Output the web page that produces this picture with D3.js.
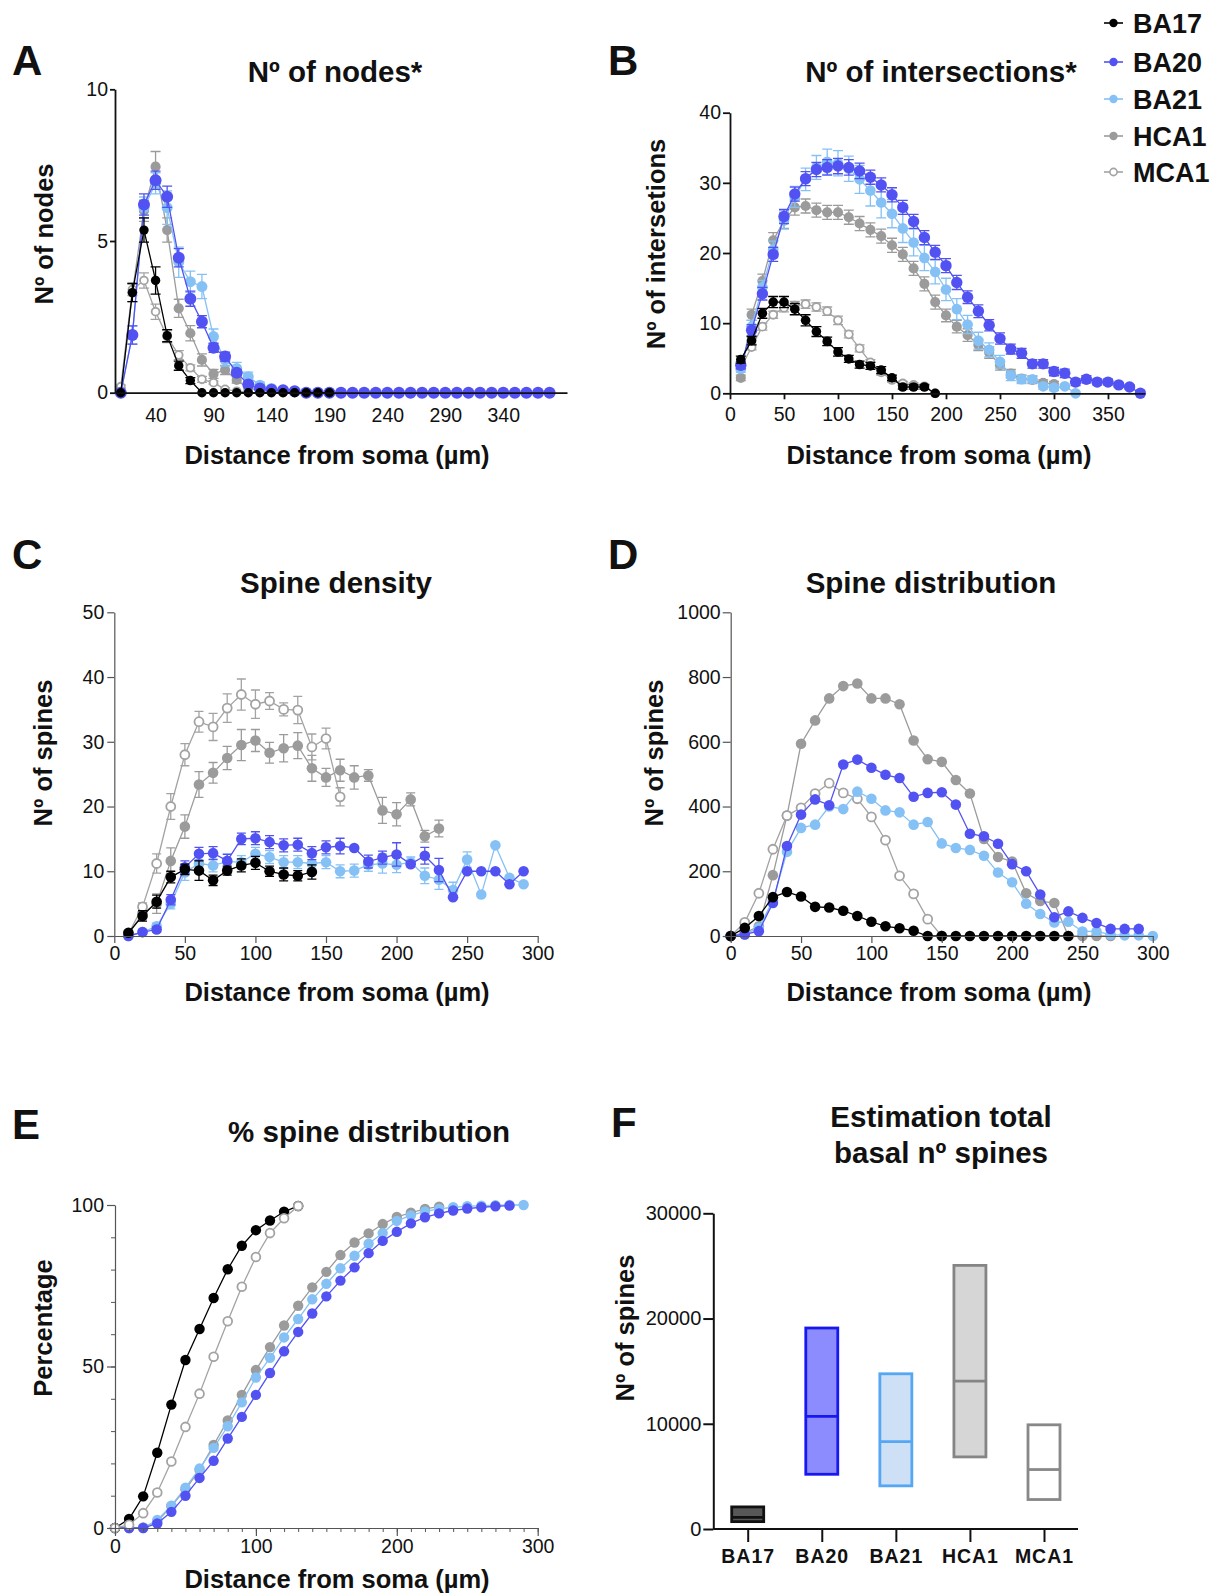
<!DOCTYPE html>
<html>
<head>
<meta charset="utf-8">
<title>Basal dendrite morphology</title>
<style>
  body { margin: 0; padding: 0; background: #fff; font-family: "Liberation Sans", Arial, Helvetica, sans-serif; }
  svg text { fill: #111; font-family: "Liberation Sans", Arial, Helvetica, sans-serif; }
  .tick text { font-size: 19.5px; }
  .title { font-size: 29.5px; font-weight: bold; text-anchor: middle; }
  .letter { font-size: 42px; font-weight: bold; }
  .axlabel { font-size: 25.5px; font-weight: bold; text-anchor: middle; }
  .legend text { font-size: 27px; font-weight: bold; }
  .catlab .tick text { font-size: 19.5px; font-weight: bold; letter-spacing: 1px; }
  .ylabF .tick text { font-size: 20px; }
</style>
</head>
<body>
<div id="fig"></div>
<script src="https://d3js.org/d3.v7.min.js"></script>
<script>
// ---- data ----
var groups = ["BA17", "BA20", "BA21", "HCA1", "MCA1"];

// A: number of nodes
var nodesDist = [10,20,30,40,50,60,70,80,90,100,110,120,130,140,150,160,170,180,190,200,210,220,230,240,250,260,270,280,290,300,310,320,330,340,350,360,370,380];
var nodesBA17 = [0,3.3,5.36,3.7,1.88,0.89,0.4,0,0,0,0,0,0,0,0,0,0,0,0];
var nodesBA20 = [0,1.9,6.2,7.0,6.46,4.45,3.1,2.34,1.48,1.19,0.66,0.27,0.14,0.1,0.08,0.05,0,0,0,0,0,0,0,0,0,0,0,0,0,0,0,0,0,0,0,0,0,0];
var nodesBA21 = [0,1.9,6.1,6.9,6.1,4.3,3.66,3.5,1.85,1.08,0.8,0.53,0.25,0.14,0.08,0.04,0,0,0];
var nodesHCA1 = [0,3.3,6.0,7.45,5.36,2.78,1.96,1.08,0.62,0.75,0.42,0.14,0.08,0.04,0.02];
var nodesMCA1 = [0.2,3.4,3.7,2.67,1.85,1.24,0.82,0.44,0.33,0.11,0.05,0.02];
var nodesErrBA17 = [0,0.3,0.4,0.45,0.2,0.15,0.1];
var nodesErrBA20 = [0,0.3,0.35,0.3,0.35,0.3,0.25,0.2,0.15,0.15,0.1,0.08,0.05];
var nodesErrBA21 = [0,0.3,0.35,0.35,0.55,0.5,0.35,0.4,0.25,0.2,0.2,0.15,0.1];
var nodesErrHCA1 = [0,0.3,0.35,0.5,0.4,0.3,0.25,0.2,0.15,0.15,0.1];
var nodesErrMCA1 = [0.05,0.2,0.25,0.25,0.2,0.15,0.1,0.1,0.05,0.05];

// B: number of intersections
var interDist = nodesDist;
var interBA17 = [4.8,7.5,11.4,13.0,13.0,12.0,10.4,8.8,7.4,5.9,4.9,4.1,3.9,3.3,2.2,0.9,0.9,0.9,0];
var interBA20 = [4.0,9.0,14.2,19.8,25.2,28.4,30.6,31.9,32.2,32.4,32.2,31.7,30.8,29.7,28.3,26.5,24.5,22.2,20.1,18.2,15.8,13.7,11.7,9.7,7.8,6.3,5.7,4.2,4.2,3.1,2.85,1.6,2.0,1.6,1.6,1.2,0.9,0];
var interBA21 = [3.5,9.5,15.1,20.5,24.7,28.0,30.5,32.2,33.0,32.8,32.0,30.5,28.9,27.2,25.6,23.5,21.5,19.3,17.3,14.8,12.0,9.8,7.5,6.2,4.5,2.5,2.0,2.0,1.0,0.8,1.0,0];
var interHCA1 = [2.2,11.2,16.0,21.8,24.6,26.5,26.7,26.1,25.8,25.8,25.1,24.2,23.3,22.4,21.1,19.8,17.8,15.6,13.0,11.1,9.5,8.3,6.9,5.8,4.0,2.8,2.1,1.9,1.5,1.3];
var interMCA1 = [3.6,6.6,9.5,11.2,12.2,12.5,12.7,12.3,11.7,10.4,8.4,6.4,4.4,3.0,1.9,1.4,1.2,1.0,0];
var interErrBA17 = [0.5,0.6,0.7,0.8,0.8,0.8,0.8,0.7,0.6,0.6,0.5,0.5,0.5,0.5,0.4,0.3,0.3,0.3,0];
var interErrBA20 = [0.5,0.8,0.9,1.0,1.0,1.0,1.0,1.0,1.1,1.1,1.1,1.1,1.0,1.0,1.0,1.0,1.0,1.0,1.0,1.0,1.0,0.9,0.9,0.8,0.8,0.7,0.7,0.6,0.6,0.6,0.6,0.5,0.5,0.4,0.4,0.3,0.3,0];
var interErrBA21 = [0.5,0.9,1.0,1.2,1.3,1.5,1.6,1.7,1.8,1.8,1.8,2.0,2.2,2.2,2.0,2.0,1.9,1.8,1.7,1.6,1.5,1.3,1.2,1.0,0.9,0.7,0.6,0.5,0.4,0.4,0.3,0];
var interErrHCA1 = [0.4,0.8,1.0,1.1,1.1,1.1,1.0,1.0,1.0,1.0,1.0,1.0,1.0,1.0,1.0,1.0,1.0,1.0,1.0,0.9,0.9,0.9,0.8,0.8,0.7,0.6,0.5,0.5,0.4,0.4];
var interErrMCA1 = [0.3,0.4,0.5,0.5,0.6,0.6,0.6,0.6,0.6,0.6,0.5,0.5,0.4,0.4,0.3,0.3,0.3,0.3,0];

// C: spine density
var densDist = [10,20,30,40,50,60,70,80,90,100,110,120,130,140,150,160,170,180,190,200,210,220,230,240,250,260,270,280,290];
var densBA17 = [0.5,3.1,5.3,9.1,10.3,10.1,8.6,10.1,10.9,11.3,10.0,9.5,9.3,9.9];
var densBA20 = [0,0.6,1.0,5.6,10.6,12.7,12.8,11.6,15.0,15.1,14.5,14.0,14.1,12.8,13.7,13.9,13.6,11.5,12.1,12.6,11.1,12.4,10.2,6.0,10.0,10.0,10.0,8.0,10.0];
var densBA21 = [0,0.6,1.5,5.0,9.8,11.2,10.9,11.5,11.4,12.7,12.2,11.4,11.4,11.2,11.4,10.0,10.1,11.0,11.2,11.0,11.4,9.3,8.7,7.1,11.8,6.4,14.0,9.0,8.0];
var densHCA1 = [0.2,3.5,5.0,11.6,16.9,23.4,25.2,27.5,29.5,30.2,28.3,29.0,29.4,25.9,24.5,25.6,24.5,24.8,19.4,18.8,21.1,15.4,16.6];
var densMCA1 = [0.3,4.5,11.2,20.0,28.0,33.1,32.3,35.2,37.3,35.8,36.3,35.0,34.9,29.2,30.5,21.5];
var densErrBA17 = [0.3,0.8,1.0,0.9,0.8,1.5,0.8,0.7,1.0,1.0,0.8,1.0,0.8,1.1];
var densErrBA20 = [0,0.3,0.4,0.8,1.0,1.0,1.0,1.0,0.9,1.0,1.0,1.0,1.0,1.0,1.0,1.2,0,1.0,1.0,1.8,0,1.3,1.8,0,0,0,0,0,0];
var densErrBA21 = [0,0.3,0.5,0.8,1.2,1.2,1.0,1.2,1.0,1.0,1.0,1.0,1.0,1.0,1.0,1.0,1.0,1.0,1.5,1.2,0.8,1.2,1.5,1.2,1.2,0,0,0,0];
var densErrHCA1 = [0.2,0.8,1.5,2.0,1.8,2.0,1.6,1.8,2.4,1.7,1.6,2.1,2.0,2.0,1.4,1.7,1.8,0.9,2.0,1.8,1.0,0.9,1.3];
var densErrMCA1 = [0.2,0.6,1.5,2.0,1.7,1.6,2.1,2.2,2.4,2.2,1.3,1.0,2.1,2.0,1.6,1.4];

// D: spine distribution
var distDist = [0,10,20,30,40,50,60,70,80,90,100,110,120,130,140,150,160,170,180,190,200,210,220,230,240,250,260,270,280,290,300];
var distBA17 = [0,25,62,120,136,122,90,88,78,62,44,30,24,16,0,0,0,0,0,0,0,0,0,0,0];
var distBA20 = [0,5,15,102,278,375,422,404,530,545,520,498,488,430,442,444,406,316,308,285,222,200,128,58,76,56,40,22,22,22];
var distBA21 = [0,5,25,110,260,334,344,400,392,446,424,388,382,344,352,286,272,266,248,196,166,100,68,42,44,14,14,4,2,2,0];
var distHCA1 = [0,10,30,188,372,594,666,734,772,780,734,734,716,604,546,538,482,440,300,244,230,132,108,102,0,0,0,0];
var distMCA1 = [0,42,132,268,372,396,440,472,442,424,368,296,186,130,52,0];

// E: % spine distribution (cumulative)
var pctDist = distDist;
var pctBA17 = [0,2.8,9.8,23.3,38.2,52.0,61.6,71.2,80.1,87.4,92.2,95.2,97.9,99.7];
var pctBA20 = [0,0,0,1.4,5.0,10.0,15.5,20.8,27.7,34.4,41.2,48.0,54.7,60.7,66.4,71.7,76.6,80.7,85.1,88.9,91.7,94.3,96.2,97.4,98.3,98.9,99.3,99.6,99.8];
var pctBA21 = [0,0,0,2.5,6.9,12.5,18.4,24.8,31.5,38.9,46.6,52.7,59.0,64.7,70.8,75.6,80.4,84.3,88.0,91.3,95.1,96.8,98.0,98.8,99.3,99.6,99.8,99.9,100,100];
var pctHCA1 = [0,0,0.2,2.0,6.8,12.0,18.0,25.7,33.3,41.2,48.9,56.0,62.7,68.8,74.5,79.3,84.5,88.4,91.2,94.1,96.3,97.6,98.8,99.5];
var pctMCA1 = [0,1.0,4.6,11.0,20.6,31.3,41.6,53.0,64.0,74.7,83.9,91.3,95.9,99.7];

// F: estimated total basal spines (min, max, mean)
var totalMin = [700, 5200, 4100, 6850, 2800];
var totalMax = [2100, 19100, 14750, 25050, 9900];
var totalMean = [1100, 10700, 8300, 14050, 5650];

// ---- styles ----
var styles = {
    BA17: { line: "#000", fill: "#000", big: 0 },
    BA20: { line: "#5252f2", fill: "#5252f2", big: 1 },
    BA21: { line: "#85c1f5", fill: "#85c1f5", big: 0.6 },
    HCA1: { line: "#9b9b9b", fill: "#9b9b9b", big: 0.3 },
    MCA1: { line: "#a3a3a3", fill: "#fff", big: 0 }
};
var boxStyle = {
    BA17: { fill: "#575757", stroke: "#111" },
    BA20: { fill: "#8c8cff", stroke: "#1717f0" },
    BA21: { fill: "#cde0f6", stroke: "#55a6f3" },
    HCA1: { fill: "#d6d6d6", stroke: "#858585" },
    MCA1: { fill: "#fff", stroke: "#888" }
};
var drawOrder = ["HCA1", "MCA1", "BA21", "BA20", "BA17"];

var W = 1219, H = 1595;
var svg = d3.select("#fig").append("svg").attr("width", W).attr("height", H);

function styleAxis(g, color, width) {
    g.select(".domain").attr("stroke", color).attr("stroke-width", width);
    g.selectAll(".tick line").attr("stroke", color).attr("stroke-width", width);
    g.selectAll(".tick text").attr("fill", "#111");
}

function linePanel(x, y, dist, series, errs, r, bigScale, cap, order) {
    var g = svg.append("g");
    (order || drawOrder).forEach(function (key) {
        var vals = series[key];
        var st = styles[key];
        var err = errs ? errs[key] : null;
        var pts = vals.map(function (v, i) { return { x: dist[i], y: v, e: err ? (err[i] || 0) : 0 }; });
        var sg = g.append("g");
        if (err) {
            sg.selectAll("path.err").data(pts.filter(function (d) { return d.e > 0; })).join("path")
                .attr("class", "err")
                .attr("d", function (d) {
                    var cx = x(d.x), y0 = y(Math.max(0, d.y - d.e)), y1 = y(d.y + d.e);
                    return "M" + cx + "," + y0 + "V" + y1 + "M" + (cx - cap) + "," + y1 + "H" + (cx + cap) +
                        "M" + (cx - cap) + "," + y0 + "H" + (cx + cap);
                })
                .attr("fill", "none").attr("stroke", st.line).attr("stroke-width", 1.3);
        }
        sg.append("path").datum(pts)
            .attr("d", d3.line().x(function (d) { return x(d.x); }).y(function (d) { return y(d.y); }))
            .attr("fill", "none").attr("stroke", st.line).attr("stroke-width", 1.3);
        var rr = r + st.big * bigScale;
        sg.selectAll("circle").data(pts).join("circle")
            .attr("cx", function (d) { return x(d.x); })
            .attr("cy", function (d) { return y(d.y); })
            .attr("r", key === "MCA1" ? rr - 0.8 : rr)
            .attr("fill", st.fill)
            .attr("stroke", st.line)
            .attr("stroke-width", key === "MCA1" ? 1.8 : 0);
    });
}

function label(x, y, text, cls, rotate) {
    var t = svg.append("text").attr("class", cls).text(text);
    if (rotate) t.attr("transform", "translate(" + x + "," + y + ") rotate(-90)");
    else t.attr("x", x).attr("y", y);
    return t;
}

var intFmt = d3.format("d");

// ---- panel A ----
var xA = d3.scaleLinear().domain([5, 395]).range([115, 567]);
var yA = d3.scaleLinear().domain([0, 10]).range([392.7, 89.3]);
linePanel(xA, yA, nodesDist,
    { BA17: nodesBA17, BA20: nodesBA20, BA21: nodesBA21, HCA1: nodesHCA1, MCA1: nodesMCA1 },
    { BA17: nodesErrBA17, BA20: nodesErrBA20, BA21: nodesErrBA21, HCA1: nodesErrHCA1, MCA1: nodesErrMCA1 },
    4.7, 1.3, 5);
styleAxis(svg.append("g").attr("transform", "translate(0,392.7)")
    .call(d3.axisBottom(xA).tickValues([40, 90, 140, 190, 240, 290, 340]).tickSize(0).tickSizeOuter(0).tickPadding(15)), "#111", 1.8);
styleAxis(svg.append("g").attr("transform", "translate(115,0)")
    .call(d3.axisLeft(yA).tickValues([0, 5, 10]).tickSize(5).tickSizeOuter(0).tickPadding(2)), "#111", 1.8);

// ---- panel B ----
var xB = d3.scaleLinear().domain([0, 384]).range([730, 1144.7]);
var yB = d3.scaleLinear().domain([0, 40]).range([393.3, 112.7]);
linePanel(xB, yB, interDist,
    { BA17: interBA17, BA20: interBA20, BA21: interBA21, HCA1: interHCA1, MCA1: interMCA1 },
    { BA17: interErrBA17, BA20: interErrBA20, BA21: interErrBA21, HCA1: interErrHCA1, MCA1: interErrMCA1 },
    4.8, 0.9, 5);
styleAxis(svg.append("g").attr("transform", "translate(0,393.3)")
    .call(d3.axisBottom(xB).tickValues([0, 50, 100, 150, 200, 250, 300, 350]).tickSize(6).tickSizeOuter(0).tickPadding(8)), "#111", 1.8);
styleAxis(svg.append("g").attr("transform", "translate(730,0)")
    .call(d3.axisLeft(yB).tickValues([0, 10, 20, 30, 40]).tickSize(7).tickSizeOuter(0).tickPadding(2)), "#111", 1.8);

// ---- panel C ----
var xC = d3.scaleLinear().domain([0, 300]).range([114.3, 537.7]);
var yC = d3.scaleLinear().domain([0, 50]).range([936, 612.3]);
linePanel(xC, yC, densDist,
    { BA17: densBA17, BA20: densBA20, BA21: densBA21, HCA1: densHCA1, MCA1: densMCA1 },
    { BA17: densErrBA17, BA20: densErrBA20, BA21: densErrBA21, HCA1: densErrHCA1, MCA1: densErrMCA1 },
    5.3, 0, 4.5);
styleAxis(svg.append("g").attr("transform", "translate(0,936)")
    .call(d3.axisBottom(xC).tickValues([0, 50, 100, 150, 200, 250, 300]).tickSize(7).tickSizeOuter(0).tickPadding(3)), "#555", 1.2);
styleAxis(svg.append("g").attr("transform", "translate(114.3,0)")
    .call(d3.axisLeft(yC).tickValues([0, 10, 20, 30, 40, 50]).tickSize(7).tickSizeOuter(0).tickPadding(3)), "#555", 1.2);

// ---- panel D ----
var xD = d3.scaleLinear().domain([0, 300]).range([730.7, 1152.8]);
var yD = d3.scaleLinear().domain([0, 1000]).range([936, 612.3]);
linePanel(xD, yD, distDist,
    { BA17: distBA17, BA20: distBA20, BA21: distBA21, HCA1: distHCA1, MCA1: distMCA1 },
    null, 5.3, 0, 0);
styleAxis(svg.append("g").attr("transform", "translate(0,936)")
    .call(d3.axisBottom(xD).tickValues([0, 50, 100, 150, 200, 250, 300]).tickSize(7).tickSizeOuter(0).tickPadding(3)), "#555", 1.2);
styleAxis(svg.append("g").attr("transform", "translate(730.7,0)")
    .call(d3.axisLeft(yD).tickValues([0, 200, 400, 600, 800, 1000]).tickFormat(intFmt).tickSize(8).tickSizeOuter(0).tickPadding(2)), "#555", 1.2);

// ---- panel E ----
var xE = d3.scaleLinear().domain([0, 300]).range([115, 537.7]);
var yE = d3.scaleLinear().domain([0, 100]).range([1528, 1205]);
linePanel(xE, yE, pctDist,
    { BA17: pctBA17, BA20: pctBA20, BA21: pctBA21, HCA1: pctHCA1, MCA1: pctMCA1 },
    null, 5.2, 0, 0, ["HCA1", "BA21", "BA20", "BA17", "MCA1"]);
// minor ticks every 10
svg.append("g").attr("transform", "translate(0,1528)")
    .call(d3.axisBottom(xE).ticks(30).tickSize(4).tickFormat(""))
    .call(function (g) { g.select(".domain").remove(); g.selectAll("line").attr("stroke", "#555"); });
svg.append("g").attr("transform", "translate(115,0)")
    .call(d3.axisLeft(yE).ticks(10).tickSize(4).tickFormat(""))
    .call(function (g) { g.select(".domain").remove(); g.selectAll("line").attr("stroke", "#555"); });
styleAxis(svg.append("g").attr("transform", "translate(0,1528)")
    .call(d3.axisBottom(xE).tickValues([0, 100, 200, 300]).tickSize(8).tickSizeOuter(0).tickPadding(3)), "#555", 1.2);
styleAxis(svg.append("g").attr("transform", "translate(115,0)")
    .call(d3.axisLeft(yE).tickValues([0, 50, 100]).tickSize(8).tickSizeOuter(0).tickPadding(3)), "#555", 1.2);

// ---- panel F ----
var xF = d3.scalePoint().domain(groups).range([747.7, 1044]);
var yF = d3.scaleLinear().domain([0, 30000]).range([1529, 1213.3]);
var boxW = 32;
var fg = svg.append("g");
groups.forEach(function (k, i) {
    var st = boxStyle[k];
    fg.append("rect")
        .attr("x", xF(k) - boxW / 2).attr("width", boxW)
        .attr("y", yF(totalMax[i])).attr("height", yF(totalMin[i]) - yF(totalMax[i]))
        .attr("fill", st.fill).attr("stroke", st.stroke).attr("stroke-width", 2.8);
    fg.append("line")
        .attr("x1", xF(k) - boxW / 2).attr("x2", xF(k) + boxW / 2)
        .attr("y1", yF(totalMean[i])).attr("y2", yF(totalMean[i]))
        .attr("stroke", st.stroke).attr("stroke-width", 2.8);
});
styleAxis(svg.append("g").attr("class", "catlab").attr("transform", "translate(0,1529)")
    .call(d3.axisBottom(xF).tickSize(13).tickSizeOuter(0).tickPadding(7))
    .call(function (g) { g.select(".domain").attr("d", "M713.3,0H1078"); }), "#111", 2);
styleAxis(svg.append("g").attr("class", "ylabF").attr("transform", "translate(713.3,0)")
    .call(d3.axisLeft(yF).tickValues([0, 10000, 20000, 30000]).tickFormat(intFmt).tickSize(10).tickSizeOuter(0).tickPadding(2)), "#111", 2);

// ---- texts ----
label(12, 75, "A", "letter");
label(608, 75, "B", "letter");
label(12, 569, "C", "letter");
label(608, 569, "D", "letter");
label(12, 1139, "E", "letter");
label(611, 1137, "F", "letter");

label(335, 82, "Nº of nodes*", "title");
label(941, 82, "Nº of intersections*", "title");
label(336, 593, "Spine density", "title");
label(931, 593, "Spine distribution", "title");
label(369, 1142, "% spine distribution", "title");
label(941, 1127, "Estimation total", "title");
label(941, 1163, "basal nº spines", "title");

var xlab = "Distance from soma (µm)";
label(337, 464, xlab, "axlabel");
label(939, 464, xlab, "axlabel");
label(337, 1001, xlab, "axlabel");
label(939, 1001, xlab, "axlabel");
label(337, 1588, xlab, "axlabel");

label(53, 234, "Nº of nodes", "axlabel", true);
label(665, 244, "Nº of intersetions", "axlabel", true);
label(52, 753, "Nº of spines", "axlabel", true);
label(663, 753, "Nº of spines", "axlabel", true);
label(52, 1328, "Percentage", "axlabel", true);
label(634, 1328, "Nº of spines", "axlabel", true);

// ---- legend ----
var legY = [23, 62, 99, 136, 172];
var leg = svg.append("g").attr("class", "legend");
groups.forEach(function (k, i) {
    var st = styles[k];
    leg.append("line").attr("x1", 1104).attr("x2", 1123).attr("y1", legY[i]).attr("y2", legY[i])
        .attr("stroke", st.line).attr("stroke-width", 1.6);
    leg.append("circle").attr("cx", 1113.5).attr("cy", legY[i]).attr("r", k === "MCA1" ? 3.6 : 4.2)
        .attr("fill", st.fill).attr("stroke", st.line).attr("stroke-width", k === "MCA1" ? 1.6 : 0);
    leg.append("text").attr("x", 1133).attr("y", legY[i] + 10).text(k);
});
</script>
</body>
</html>
